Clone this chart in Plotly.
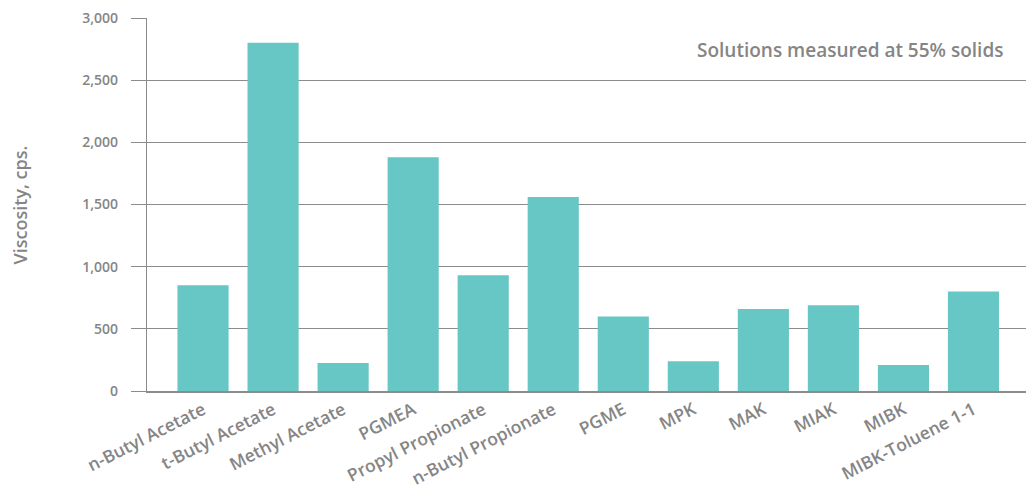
import plotly.graph_objects as go

categories = ["n-Butyl Acetate", "t-Butyl Acetate", "Methyl Acetate", "PGMEA",
              "Propyl Propionate", "n-Butyl Propionate", "PGME", "MPK", "MAK",
              "MIAK", "MIBK", "MIBK-Toluene 1-1"]
viscosity = [850, 2800, 225, 1880, 930, 1560, 600, 240, 660, 690, 210, 800]
y_ticks = [0, 500, 1000, 1500, 2000, 2500, 3000]
y_tick_labels = ["0", "500", "1,000", "1,500", "2,000", "2,500", "3,000"]

grey = "#858585"
line_grey = "#8c8c8c"
font_family = "Open Sans"

fig = go.Figure(go.Bar(
    x=categories, y=viscosity,
    marker=dict(color="#67C7C4", line=dict(width=0)),
))

fig.update_layout(
    width=1026, height=497,
    margin=dict(l=147, r=0, t=18, b=106),
    plot_bgcolor="white", paper_bgcolor="white",
    bargap=0.27,
    showlegend=False,
    font=dict(family=font_family, color=grey, size=13),
    xaxis=dict(
        type="category", range=[-0.8, 11.75], automargin=False,
        tickangle=-27, showgrid=False, ticks="",
        showline=True, linecolor=line_grey, linewidth=2,
        tickfont=dict(family=font_family, size=17.5, color=grey, weight=600),
    ),
    yaxis=dict(
        range=[0, 3000], tickvals=y_ticks, ticktext=y_tick_labels, automargin=False,
        showgrid=True, gridcolor=line_grey, gridwidth=1.3,
        ticks="outside", ticklen=15, tickcolor=line_grey, tickwidth=1.3,
        showline=True, linecolor=line_grey, linewidth=1.3,
        zeroline=False,
        ticklabelstandoff=10,
        tickfont=dict(family=font_family, size=14, color=grey, weight=600),
    ),
    annotations=[
        dict(
            text="Solutions measured at 55% solids",
            xref="paper", yref="paper", x=0.976, y=0.914,
            xanchor="right", yanchor="middle", showarrow=False,
            font=dict(family=font_family, size=19, color=grey, weight=600),
        ),
        dict(
            text="Viscosity, cps.",
            xref="paper", yref="paper", x=-0.1445, y=0.5,
            xanchor="center", yanchor="middle", showarrow=False, textangle=-90,
            font=dict(family=font_family, size=18, color=grey, weight=600),
        ),
    ],
)

fig.write_html("out.html", config={"displayModeBar": False},
               post_script="document.body.style.margin='0';")
